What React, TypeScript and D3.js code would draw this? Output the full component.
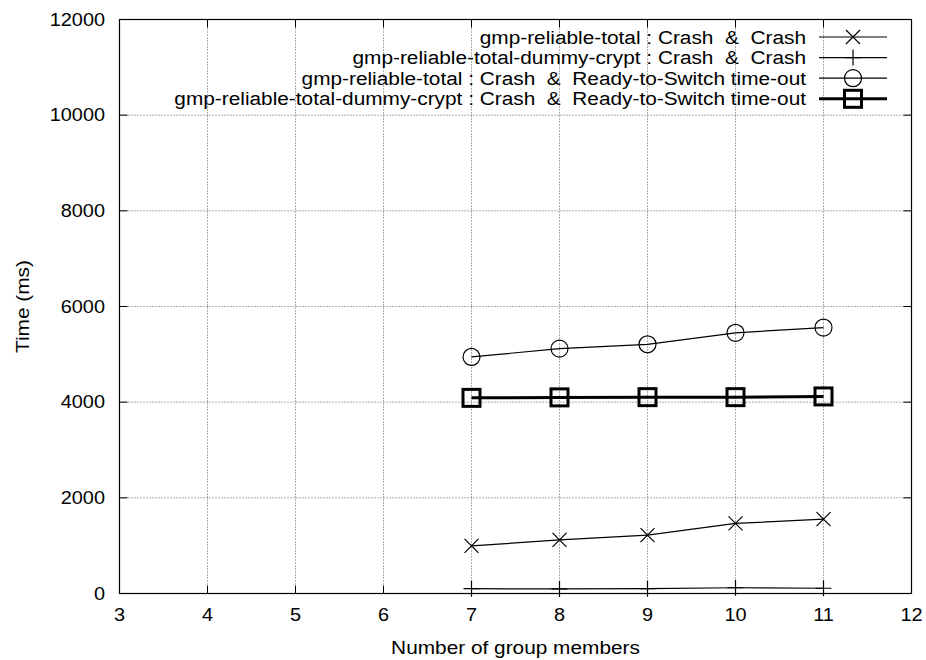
import React from "react";
import * as d3 from "d3";

// data
const members = [7, 8, 9, 10, 11];
const crashCrash = [995, 1120, 1220, 1465, 1555];
const crashCrashDummy = [100, 95, 100, 120, 110];
const crashTimeout = [4945, 5120, 5210, 5450, 5560];
const crashTimeoutDummy = [4090, 4100, 4105, 4105, 4120];

const xTicks = [3, 4, 5, 6, 7, 8, 9, 10, 11, 12];
const yTicks = [0, 2000, 4000, 6000, 8000, 10000, 12000];

const seriesNames = [
  "gmp-reliable-total : Crash  &  Crash",
  "gmp-reliable-total-dummy-crypt : Crash  &  Crash",
  "gmp-reliable-total : Crash  &  Ready-to-Switch time-out",
  "gmp-reliable-total-dummy-crypt : Crash  &  Ready-to-Switch time-out",
];
const seriesValues = [crashCrash, crashCrashDummy, crashTimeout, crashTimeoutDummy];
const seriesMarkers = ["cross", "plus", "circle", "square"];

const W = 926;
const H = 660;
const left = 119.5;
const right = 911.5;
const top = 19.5;
const bottom = 593.5;
const font = "'Liberation Sans', Arial, Helvetica, sans-serif";
// the reference type is slightly wider than it is tall
const stretch = 1.12;

function Marker({ kind, x, y }: { kind: string; x: number; y: number }) {
  if (kind === "cross") {
    const s = 7;
    return (
      <path d={`M${x - s},${y - s}L${x + s},${y + s}M${x - s},${y + s}L${x + s},${y - s}`} stroke="#000" strokeWidth={1.2} fill="none" />
    );
  }
  if (kind === "plus") {
    const s = 8;
    return <path d={`M${x - s},${y}L${x + s},${y}M${x},${y - s}L${x},${y + s}`} stroke="#000" strokeWidth={1.2} fill="none" />;
  }
  if (kind === "circle") {
    return <circle cx={x} cy={y} r={8.5} stroke="#000" strokeWidth={1.2} fill="none" />;
  }
  return <rect x={x - 8.5} y={y - 8.5} width={17} height={17} stroke="#000" strokeWidth={3} fill="none" />;
}

export default function App() {
  const x = d3.scaleLinear().domain([3, 12]).range([left, right]);
  const y = d3.scaleLinear().domain([0, 12000]).range([bottom, top]);
  const line = d3
    .line<number>()
    .x((_, i) => x(members[i]))
    .y((d) => y(d));

  const legendY0 = 37;
  const legendStep = 20.6;
  const legendTextX = 806;
  const legendLine = [819, 887];

  return (
    <svg width={W} height={H} style={{ position: "absolute", left: 0, top: 0, background: "#fff" }}>
      <rect width={W} height={H} fill="#fff" />
      {/* grid */}
      <g stroke="#000" strokeWidth={0.8} strokeDasharray="1,2" opacity={0.8}>
        {xTicks.slice(1, -1).map((t) => (
          <line key={"gx" + t} x1={x(t)} x2={x(t)} y1={top} y2={bottom} />
        ))}
        {yTicks.slice(1, -1).map((t) => (
          <line key={"gy" + t} x1={left} x2={right} y1={y(t)} y2={y(t)} />
        ))}
      </g>
      {/* ticks on all four sides */}
      <g stroke="#000" strokeWidth={1}>
        {xTicks.map((t) => (
          <g key={"tx" + t}>
            <line x1={x(t)} x2={x(t)} y1={bottom} y2={bottom - 8} />
            <line x1={x(t)} x2={x(t)} y1={top} y2={top + 8} />
          </g>
        ))}
        {yTicks.map((t) => (
          <g key={"ty" + t}>
            <line x1={left} x2={left + 8} y1={y(t)} y2={y(t)} />
            <line x1={right} x2={right - 8} y1={y(t)} y2={y(t)} />
          </g>
        ))}
      </g>
      <rect x={left} y={top} width={right - left} height={bottom - top} fill="none" stroke="#000" strokeWidth={1.2} />
      {/* tick labels */}
      <g fontFamily={font} fontSize={18.6} fill="#000">
        {xTicks.map((t) => (
          <text
            key={"lx" + t}
            transform={`translate(${x(t)},615) scale(1.07,1)`}
            textAnchor="middle"
            dominantBaseline="central"
          >
            {t}
          </text>
        ))}
        {yTicks.map((t) => (
          <text
            key={"ly" + t}
            transform={`translate(105,${y(t)}) scale(1.07,1)`}
            textAnchor="end"
            dominantBaseline="central"
          >
            {t}
          </text>
        ))}
      </g>
      <g fontFamily={font} fontSize={18.6} fill="#000">
        <text
          transform={`translate(${(left + right) / 2},647) scale(${stretch},1)`}
          textAnchor="middle"
          dominantBaseline="central"
        >
          Number of group members
        </text>
        <text
          transform={`translate(22,${(top + bottom) / 2}) rotate(-90) scale(${stretch},1)`}
          textAnchor="middle"
          dominantBaseline="central"
        >
          Time (ms)
        </text>
      </g>
      {/* series */}
      {seriesValues.map((vals, si) => (
        <g key={"s" + si}>
          <path d={line(vals) || ""} fill="none" stroke="#000" strokeWidth={si === 3 ? 3 : 1.2} />
          {vals.map((v, i) => (
            <Marker key={i} kind={seriesMarkers[si]} x={x(members[i])} y={y(v)} />
          ))}
        </g>
      ))}
      {/* legend */}
      <g fontFamily={font} fontSize={18.6} fill="#000">
        {seriesNames.map((name, i) => {
          const ly = legendY0 + i * legendStep;
          return (
            <g key={"lg" + i}>
              <text
                transform={`translate(${legendTextX},${ly}) scale(${stretch},1)`}
                textAnchor="end"
                dominantBaseline="central"
                style={{ whiteSpace: "pre" }}
              >
                {name}
              </text>
              <line x1={legendLine[0]} x2={legendLine[1]} y1={ly} y2={ly} stroke="#000" strokeWidth={i === 3 ? 3 : 1.2} />
              <Marker kind={seriesMarkers[i]} x={(legendLine[0] + legendLine[1]) / 2} y={ly} />
            </g>
          );
        })}
      </g>
    </svg>
  );
}
